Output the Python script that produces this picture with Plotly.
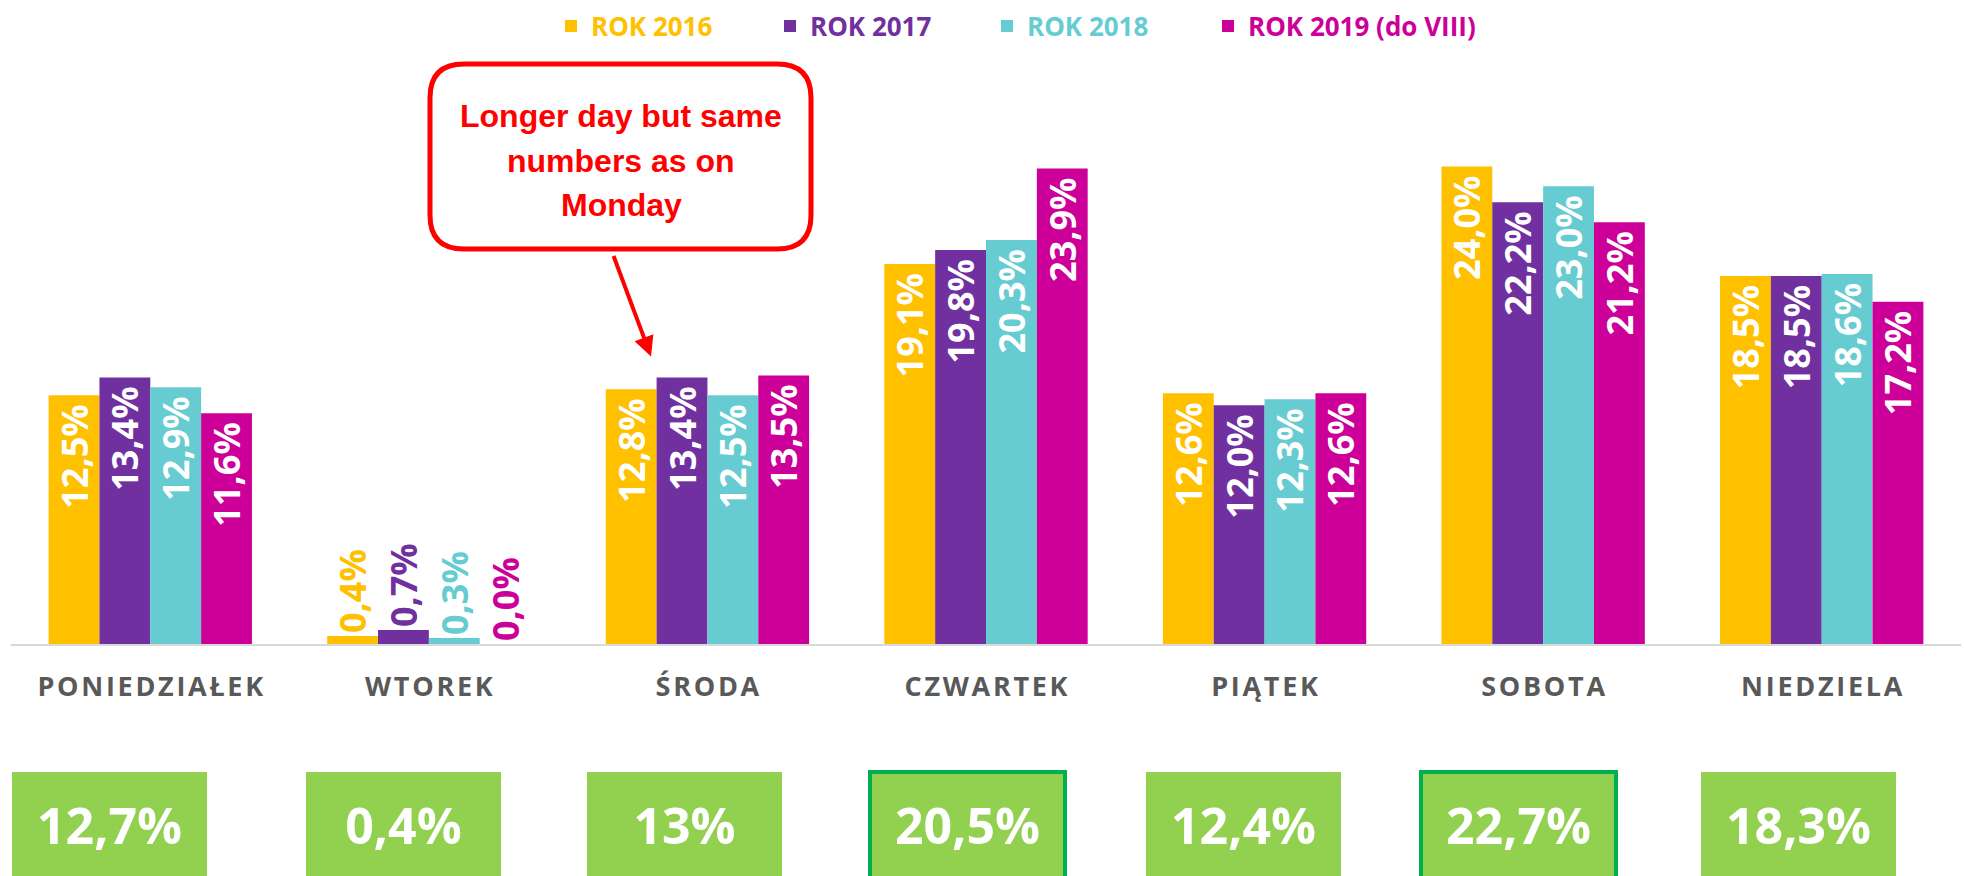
import plotly.graph_objects as go

# ---------------- data ----------------
days = ["PONIEDZIAŁEK", "WTOREK", "ŚRODA", "CZWARTEK", "PIĄTEK", "SOBOTA", "NIEDZIELA"]
series_names = ["ROK 2016", "ROK 2017", "ROK 2018", "ROK 2019 (do VIII)"]
rok_2016 = [12.5, 0.4, 12.8, 19.1, 12.6, 24.0, 18.5]
rok_2017 = [13.4, 0.7, 13.4, 19.8, 12.0, 22.2, 18.5]
rok_2018 = [12.9, 0.3, 12.5, 20.3, 12.3, 23.0, 18.6]
rok_2019 = [11.6, 0.0, 13.5, 23.9, 12.6, 21.2, 17.2]
averages = [12.7, 0.4, 13.0, 20.5, 12.4, 22.7, 18.3]
average_labels = ["12,7%", "0,4%", "13%", "20,5%", "12,4%", "22,7%", "18,3%"]
callout_lines = ["Longer day but same", "numbers as on", "Monday"]

# ---------------- styles ----------------
colors = ["#FFC000", "#7030A0", "#66CCD2", "#CC0099"]
W, H = 1964, 876
ML, MR, MT, MB = 11, 3, 60, 232
PW, PH = W - ML - MR, H - MT - MB
FONT = "Open Sans"
legend_left_px = [551, 770, 987, 1208]
callout_line_y_px = [113, 159, 203]
box_shift = [-41, -25, -23, -19, -21, -25, -23]


def px2x(px):
    return (px - ML) / PW


def py2y(py):
    return (H - MB - py) / PH


fig = go.Figure()
all_series = [rok_2016, rok_2017, rok_2018, rok_2019]
legend_ids = ["legend", "legend2", "legend3", "legend4"]
for name, vals, col, lid in zip(series_names, all_series, colors, legend_ids):
    positions = ["inside" if v > 3 else "outside" for v in vals]
    fig.add_trace(go.Bar(
        x=days, y=vals,
        name=f"<span style='color:{col}'>{name}</span>",
        legend=lid,
        marker=dict(color=col, line=dict(width=0)),
        texttemplate="%{y:.1f}%\u2009",
        textposition=positions,
        textangle=-90,
        insidetextanchor="end",
        constraintext="none",
        cliponaxis=False,
        insidetextfont=dict(family=FONT, size=36, color="white", weight="bold"),
        outsidetextfont=dict(family=FONT, size=36, color=col, weight="bold"),
        hoverinfo="skip",
    ))

spaced = ["\u200a".join(list(d)) for d in days]

legend_common = dict(
    orientation="h", xanchor="left", y=py2y(23), yanchor="middle",
    font=dict(family=FONT, size=26, weight="bold"),
    itemclick=False, itemdoubleclick=False, bgcolor="rgba(0,0,0,0)",
)
legend_layout = {lid: dict(x=px2x(lx), **legend_common) for lid, lx in zip(legend_ids, legend_left_px)}

fig.update_layout(
    width=W, height=H,
    margin=dict(l=ML, r=MR, t=MT, b=MB, pad=0),
    paper_bgcolor="white", plot_bgcolor="white",
    barmode="group", bargap=0.27, bargroupgap=0,
    separators=",.",
    showlegend=True,
    xaxis=dict(
        type="category", tickvals=days, ticktext=spaced,
        showline=True, linecolor="#D9D9D9", linewidth=2,
        ticks="outside", ticklen=18, tickcolor="rgba(0,0,0,0)",
        tickfont=dict(family=FONT, size=27, color="#595959", weight="bold"),
        showgrid=False, zeroline=False, fixedrange=True,
    ),
    yaxis=dict(visible=False, range=[0, 29.2], showgrid=False, zeroline=False, fixedrange=True),
    **legend_layout,
)

# ---------------- callout ----------------
l, r = px2x(430), px2x(811)
t, b = py2y(61), py2y(247)
rx, ry = 34 / PW, 34 / PH
path = (f"M {l+rx},{t} L {r-rx},{t} Q {r},{t} {r},{t-ry} L {r},{b+ry} "
        f"Q {r},{b} {r-rx},{b} L {l+rx},{b} Q {l},{b} {l},{b+ry} L {l},{t-ry} Q {l},{t} {l+rx},{t} Z")
fig.add_shape(type="path", path=path, xref="paper", yref="paper",
              line=dict(color="#FF0000", width=5), fillcolor="white", layer="above")
for line, ly in zip(callout_lines, callout_line_y_px):
    fig.add_annotation(x=px2x(621), y=py2y(ly), xref="paper", yref="paper",
                       xanchor="center", yanchor="middle",
                       text=line, showarrow=False, align="center",
                       font=dict(family="Liberation Sans", size=32, color="#FF0000", weight="bold"))
fig.add_annotation(x=px2x(651), y=py2y(355), xref="paper", yref="paper",
                   ax=-38, ay=-102, axref="pixel", ayref="pixel",
                   text="", showarrow=True, arrowhead=2, arrowsize=1, arrowwidth=4,
                   arrowcolor="#FF0000", standoff=0, startstandoff=0)

# ---------------- average boxes ----------------
top_two = sorted(averages, reverse=True)[:2]
for day, val, lab, sh in zip(days, averages, average_labels, box_shift):
    hl = val in top_two
    fig.add_annotation(
        x=day, xref="x", y=py2y(826), yref="paper", xanchor="center", yanchor="middle",
        xshift=sh, text=lab, showarrow=False,
        width=191 if hl else 195, height=102 if hl else 106, borderpad=0,
        bgcolor="#92D050",
        bordercolor="#00B050" if hl else "rgba(0,0,0,0)",
        borderwidth=4 if hl else 0,
        font=dict(family=FONT, size=50, color="white", weight="bold"),
        align="center", valign="middle",
    )

fig.write_html("out.html", include_plotlyjs=True,
               config={"displayModeBar": False},
               post_script="document.body.style.margin='0';document.body.style.overflow='hidden';")
